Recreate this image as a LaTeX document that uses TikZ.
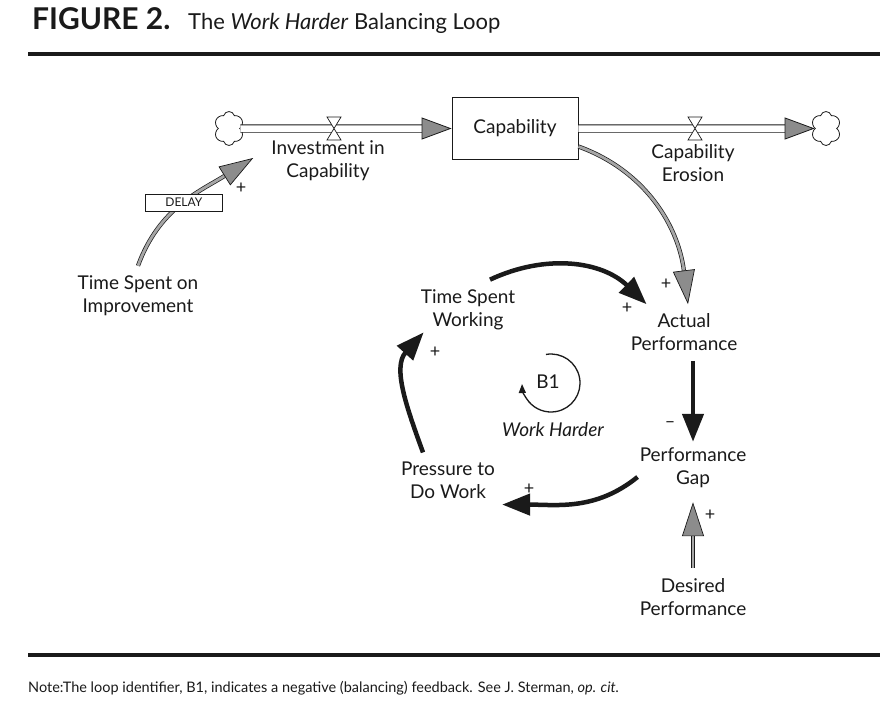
\documentclass[tikz,border=0pt]{standalone}
\usepackage{fontspec}
\setmainfont{Lato}
\usetikzlibrary{arrows.meta, positioning, shapes.symbols}
\usepackage{xcolor}
\definecolor{inkblack}{HTML}{1A1A1A}
\definecolor{headgray}{HTML}{8C8C8C}
\definecolor{linkgray}{HTML}{A6A6A6}

\tikzset{
  var/.style={font=\fontsize{19}{23}\selectfont, text=inkblack, align=center, inner sep=2pt},
  sign/.style={font=\fontsize{18}{18}\selectfont, text=inkblack, inner sep=0pt},
  stockbox/.style={draw=inkblack, line width=0.8pt, minimum width=126pt, minimum height=62pt,
                   font=\fontsize{19}{23}\selectfont, text=inkblack},
  delaybox/.style={draw=inkblack, fill=white, line width=0.7pt, minimum width=77pt, minimum height=17pt,
                   inner sep=0pt, text=inkblack, font=\fontsize{12}{12}\selectfont},
  sourcecloud/.style={cloud, cloud puffs=6, aspect=0.85, draw=inkblack, fill=white, line width=0.8pt,
                      minimum width=30pt, minimum height=34pt, inner sep=0pt},
  pipe/.style={draw=inkblack, line width=0.8pt, double=white, double distance=6.5pt,
               -{Triangle[length=30pt, width=22pt, fill=headgray]}},
  infolink/.style={draw=inkblack, line width=0.7pt, double=linkgray, double distance=2.8pt,
                   -{Triangle[length=34pt, width=22pt, fill=headgray]}},
  looplink/.style={draw=inkblack, line width=4.5pt, -{Triangle[length=28pt, width=21pt]}},
}

\begin{document}
\begin{tikzpicture}[x=1pt, y=1pt]
    \fill[white] (0,0) rectangle (880,-701);
    \useasboundingbox (0,0) rectangle (880,-701);
    % TITLE
    \node[font=\fontsize{30}{30}\selectfont\bfseries, text=inkblack, anchor=base west, inner sep=0pt]
      (figno) at (32,-30) {FIGURE 2.};
    \node[font=\fontsize{22}{22}\selectfont, text=inkblack, anchor=base west, inner sep=0pt]
      (title) at (188,-30) {The \textit{Work Harder} Balancing Loop};
    \draw[line width=4pt, inkblack] (28,-54) -- (880,-54);
    % STOCK AND FLOWS
    \node[stockbox] (capbox) at (515,-128.5) {Capability};
    \node[sourcecloud] (cloudL) at (229,-128.5) {};
    \node[sourcecloud] (cloudR) at (826,-128.5) {};
    \draw[pipe] (cloudL) -- (capbox);
    \draw[pipe] (capbox) -- (cloudR);
    \foreach \vx in {334,695}
      \filldraw[fill=white, draw=inkblack, line width=0.7pt]
        (\vx-7,-117) -- (\vx+7,-117) -- (\vx-7,-140) -- (\vx+7,-140) -- cycle;
    \node[var] (investment) at (328,-161) {Investment in\\Capability};
    \node[var] (erosion) at (693,-163) {Capability\\Erosion};
    % VARIABLES
    \node[var] (improvement) at (138,-296) {Time Spent on\\Improvement};
    \node[var] (working) at (468,-310) {Time Spent\\Working};
    \node[var] (actual) at (684,-332) {Actual\\Performance};
    \node[var] (gap) at (693,-468) {Performance\\Gap};
    \node[var] (pressure) at (448,-480) {Pressure to\\Do Work};
    \node[var] (desired) at (693,-597) {Desired\\Performance};
    % INFORMATION LINKS
    \draw[infolink] ([yshift=8pt]improvement.north) to[out=70, in=212]
      node[delaybox, pos=0.5] (delay) {DELAY} ([xshift=-16pt,yshift=3pt]investment.west);
    \draw[infolink] ([yshift=-18pt]capbox.east) to[out=-20, in=97] ([xshift=4pt,yshift=7pt]actual.north);
    \draw[infolink] ([yshift=8pt]desired.north) -- ([yshift=-12pt]gap.south);
    % WORK HARDER LOOP
    \draw[looplink] ([xshift=22pt,yshift=8pt]working.north) to[out=25, in=136]
      ([xshift=18pt,yshift=7pt]actual.north west);
    \draw[looplink] ([xshift=9pt,yshift=-8pt]actual.south) -- ([yshift=4pt]gap.north);
    \draw[looplink] ([yshift=-9pt]gap.west) to[out=219, in=0]
      ([xshift=5pt,yshift=-4pt]pressure.south east);
    \draw[looplink] ([xshift=-25pt,yshift=7pt]pressure.north) to[out=110, in=228]
      ([xshift=5pt]working.south west);
    % POLARITIES
    \node[sign] (s1) at (241,-188) {+};
    \node[sign] (s2) at (666,-284) {+};
    \node[sign] (s3) at (627,-308) {+};
    \node[sign] (s4) at (670,-425) {–};
    \node[sign] (s5) at (529,-489) {+};
    \node[sign] (s6) at (435,-352) {+};
    \node[sign] (s7) at (710,-515) {+};
    % LOOP IDENTIFIER
    \node[var] (b1) at (548,-382) {B1};
    \draw[inkblack, line width=1.3pt, -{Triangle[length=9pt, width=7pt]}]
      (b1.center) ++(3,-1) ++(100:29) arc[start angle=100, end angle=-178, radius=29];
    \node[var, font=\fontsize{19}{23}\selectfont\itshape] (harder) at (553,-430) {Work Harder};
    % NOTE
    \draw[line width=3.5pt, inkblack] (28,-655) -- (880,-655);
    \node[font=\fontsize{14.5}{14.5}\selectfont, text=inkblack, anchor=base west, inner sep=0pt]
      (note) at (28,-692) {Note:The loop identifier, B1, indicates a negative (balancing) feedback. See J. Sterman, \textit{op. cit.}};
\end{tikzpicture}
\end{document}
